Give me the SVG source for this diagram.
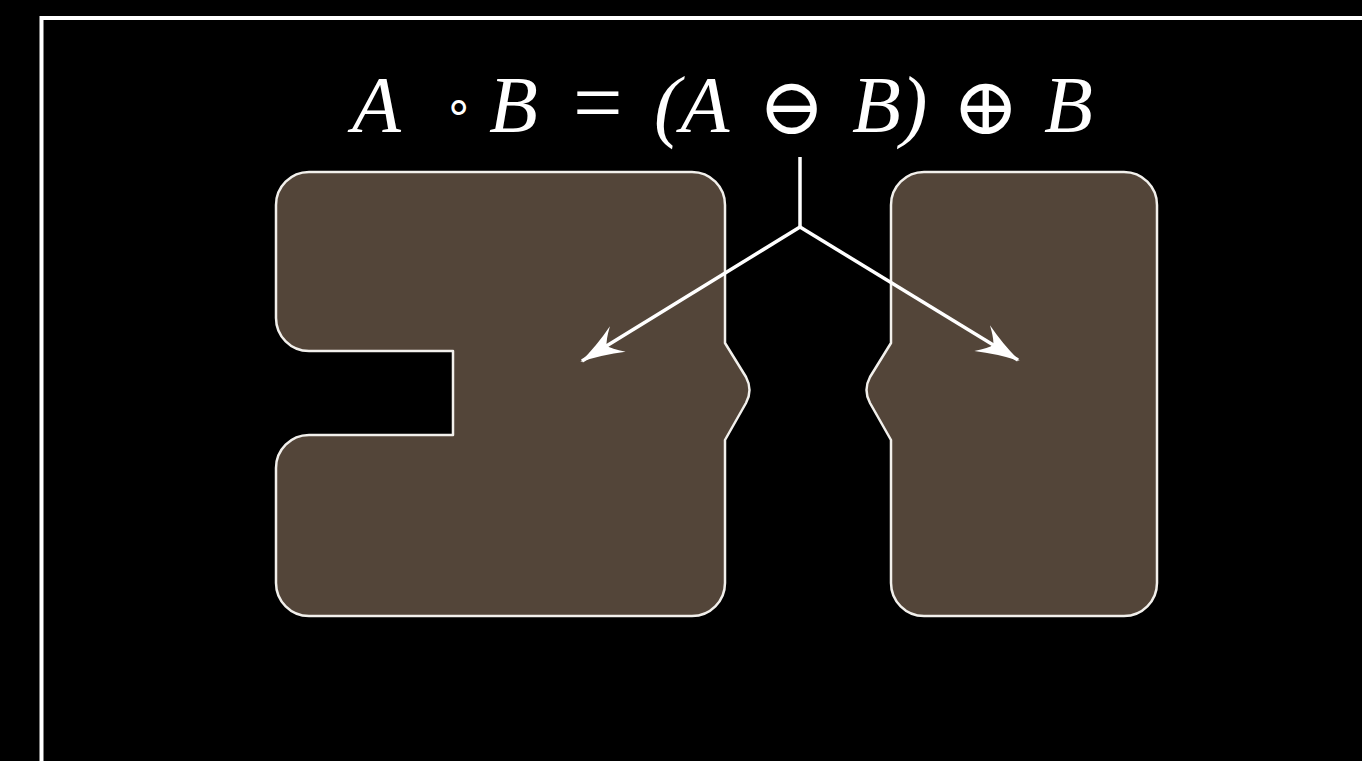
<svg xmlns="http://www.w3.org/2000/svg" width="1362" height="761" viewBox="0 0 1362 761">
  <defs>
    <marker id="head" markerUnits="userSpaceOnUse" markerWidth="60" markerHeight="40" refX="0" refY="0" viewBox="-48 -20 56 40" orient="auto" overflow="visible">
      <path d="M2,0 Q-20,-5 -42,-15 Q-31,-5 -29,0 Q-31,5 -42,15 Q-20,5 2,0 Z" fill="#ffffff"/>
    </marker>
  </defs>
  <rect width="1362" height="761" fill="#000000"/>
  <path d="M41.5,765 V18 H1366" fill="none" stroke="#ffffff" stroke-width="4"/>

  <g id="formula" transform="scale(1.33333)" fill="#ffffff" font-size="60" font-style="italic">
    <text font-family="Liberation Serif" x="264" y="99">A</text>
    <text font-family="Liberation Serif" font-style="normal" font-size="35" x="333" y="91.5">∘</text>
    <text font-family="Liberation Serif" x="366.75" y="99">B</text>
    <text font-family="Liberation Serif" font-style="normal" font-size="66" x="429.75" y="99">=</text>
    <text font-family="Liberation Serif" x="490.5" y="99">(A</text>
    <text font-family="DejaVu Serif" font-style="normal" x="568.5" y="100.5">⊖</text>
    <text font-family="Liberation Serif" x="639" y="99">B)</text>
    <text font-family="DejaVu Serif" font-style="normal" x="714" y="100.5">⊕</text>
    <text font-family="Liberation Serif" x="783" y="99">B</text>
  </g>

  <g id="shapeA">
    <path fill="#534539" stroke="#f2f0ec" stroke-width="2.5" stroke-linejoin="round" d="M309,172 H692 A33,33 0 0 1 725,205 V343 L746,377 Q753,390 746,403 L725,440 V583 A33,33 0 0 1 692,616 H309 A33,33 0 0 1 276,583 V468 A33,33 0 0 1 309,435 H453 V351 H309 A33,33 0 0 1 276,318 V205 A33,33 0 0 1 309,172 Z"/>
  </g>
  <g id="shapeB">
    <path fill="#534539" stroke="#f2f0ec" stroke-width="2.5" stroke-linejoin="round" d="M924,172 H1124 A33,33 0 0 1 1157,205 V583 A33,33 0 0 1 1124,616 H924 A33,33 0 0 1 891,583 V440 L870,403 Q863,390 870,377 L891,343 V205 A33,33 0 0 1 924,172 Z"/>
  </g>

  <g id="connectors" fill="none" stroke="#ffffff" stroke-width="3.5">
    <path d="M800,157 V227"/>
    <path d="M800,227 L582,361" marker-end="url(#head)"/>
    <path d="M800,227 L1018,360" marker-end="url(#head)"/>
  </g>
</svg>
